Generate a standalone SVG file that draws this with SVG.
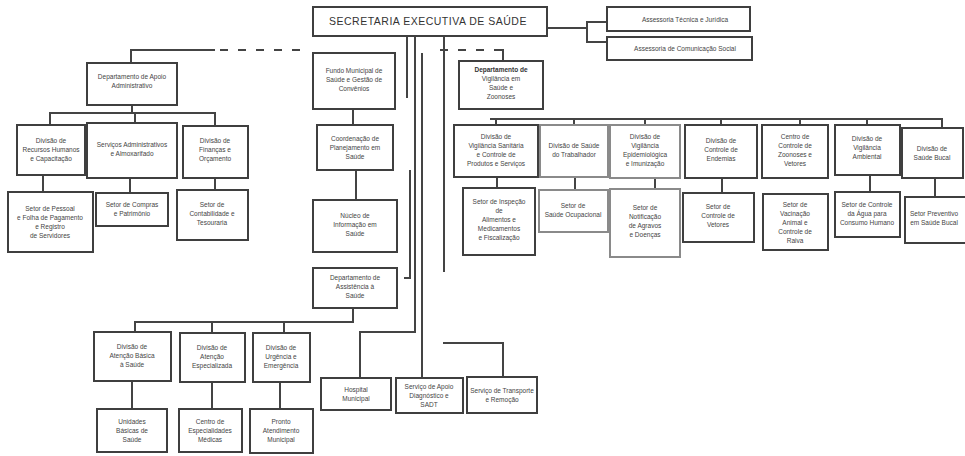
<svg xmlns="http://www.w3.org/2000/svg" width="965" height="456" viewBox="0 0 965 456">
<style>
.b{fill:#fff;stroke:#3f3f3f;stroke-width:2}
.l{fill:#fff;stroke:#8a8a8a;stroke-width:2}
.c{fill:none;stroke:#444;stroke-width:2}
.d{fill:none;stroke:#444;stroke-width:2;stroke-dasharray:8 10}
text{font-family:"Liberation Sans",Arial,sans-serif;font-size:6.5px;fill:#444;text-anchor:middle}
.h{font-size:10.5px;fill:#333;letter-spacing:0.5px}
</style>
<rect width="965" height="456" fill="#fff"/>
<g id="connectors">
<path class="c" d="M547,28 H587 M607,22 H587 V42 H607"/>
<path class="c" d="M131,63 V50 H215"/>
<path class="d" d="M220,50 H310"/>
<path class="c" d="M132,105 V113 M50,125 V113 H215 V126 M135,113 V123"/>
<path class="c" d="M43,175 V192 M130,178 V193 M215,178 V190"/>
<path class="c" d="M353,109 V125 M356,170 V200"/>
<path class="c" d="M353,308 V322 H135 V332 M212,322 V333 M284,322 V333"/>
<path class="c" d="M132,381 V409 M212,382 V409 M280,382 V409"/>
<path class="c" d="M407,36 V98 M415,36 V332 H360 V378 M422,53 V378 M444,36 V272 M410,170 V278 H404"/>
<path class="c" d="M443,343 H503 V377"/>
<path class="d" d="M440,50 H500"/>
<path class="c" d="M500,50 H503 V61"/>
<path class="c" d="M490,119 H942 V128 M496,119 V125 M574,119 V125 M645,119 V125 M721,119 V125 M800,119 V125 M867,119 V125"/>
<path class="c" d="M497,177 V188 M575,177 V190 M655,178 V189 M722,178 V193 M870,175 V192 M935,178 V197"/>
</g>
<g id="title"><rect class="b" x="313" y="7" width="234" height="29"/><text class="h" x="428" y="25">SECRETARIA EXECUTIVA DE SAÚDE</text></g>
<g id="tr1"><rect class="b" x="607" y="7" width="143" height="24"/><text x="685" y="22">Assessoria Técnica e Jurídica</text></g>
<g id="tr2"><rect class="b" x="607" y="37" width="145" height="23"/><text x="685" y="51">Assessoria de Comunicação Social</text></g>
<g id="l0"><rect class="b" x="87" y="63" width="90" height="42"/><text x="132" y="79">Departamento de Apoio</text><text x="132" y="88">Administrativo</text></g>
<g id="l1"><rect class="b" x="17" y="125" width="68" height="50"/><text x="51" y="143">Divisão de</text><text x="51" y="152">Recursos Humanos</text><text x="51" y="161">e Capacitação</text></g>
<g id="l2"><rect class="b" x="87" y="123" width="90" height="55"/><text x="132" y="147">Serviços Administrativos</text><text x="132" y="156">e Almoxarifado</text></g>
<g id="l3"><rect class="b" x="183" y="126" width="65" height="52"/><text x="215" y="143">Divisão de</text><text x="215" y="152">Finanças e</text><text x="215" y="161">Orçamento</text></g>
<g id="l1c"><rect class="b" x="8" y="192" width="85" height="60"/><text x="50" y="211">Setor de Pessoal</text><text x="50" y="220">e Folha de Pagamento</text><text x="50" y="229">e Registro</text><text x="50" y="238">de Servidores</text></g>
<g id="l2c"><rect class="b" x="96" y="193" width="72" height="33"/><text x="132" y="207">Setor de Compras</text><text x="132" y="216">e Patrimônio</text></g>
<g id="l3c"><rect class="b" x="177" y="190" width="71" height="50"/><text x="212" y="207">Setor de</text><text x="212" y="216">Contabilidade e</text><text x="212" y="225">Tesouraria</text></g>
<g id="c1"><rect class="b" x="313" y="53" width="82" height="56"/><text x="354" y="73">Fundo Municipal de</text><text x="354" y="82">Saúde e Gestão de</text><text x="354" y="91">Convênios</text></g>
<g id="c2"><rect class="b" x="317" y="125" width="76" height="45"/><text x="355" y="141">Coordenação de</text><text x="355" y="150">Planejamento em</text><text x="355" y="159">Saúde</text></g>
<g id="c3"><rect class="b" x="313" y="200" width="84" height="52"/><text x="355" y="218">Núcleo de</text><text x="355" y="227">Informação em</text><text x="355" y="236">Saúde</text></g>
<g id="c4"><rect class="b" x="313" y="268" width="84" height="40"/><text x="355" y="280">Departamento de</text><text x="355" y="289">Assistência à</text><text x="355" y="298">Saúde</text></g>
<g id="bl1"><rect class="b" x="94" y="332" width="77" height="49"/><text x="132" y="349">Divisão de</text><text x="132" y="358">Atenção Básica</text><text x="132" y="367">à Saúde</text></g>
<g id="bl2"><rect class="b" x="180" y="333" width="65" height="49"/><text x="212" y="350">Divisão de</text><text x="212" y="359">Atenção</text><text x="212" y="368">Especializada</text></g>
<g id="bl3"><rect class="b" x="253" y="333" width="57" height="49"/><text x="281" y="350">Divisão de</text><text x="281" y="359">Urgência e</text><text x="281" y="368">Emergência</text></g>
<g id="bl1c"><rect class="b" x="97" y="409" width="70" height="43"/><text x="132" y="424">Unidades</text><text x="132" y="433">Básicas de</text><text x="132" y="442">Saúde</text></g>
<g id="bl2c"><rect class="b" x="179" y="409" width="63" height="43"/><text x="210" y="424">Centro de</text><text x="210" y="433">Especialidades</text><text x="210" y="442">Médicas</text></g>
<g id="bl3c"><rect class="b" x="250" y="409" width="63" height="44"/><text x="281" y="424">Pronto</text><text x="281" y="433">Atendimento</text><text x="281" y="442">Municipal</text></g>
<g id="b1"><rect class="b" x="321" y="378" width="70" height="32"/><text x="356" y="392">Hospital</text><text x="356" y="401">Municipal</text></g>
<g id="b2"><rect class="b" x="396" y="378" width="67" height="35"/><text x="429" y="389">Serviço de Apoio</text><text x="429" y="398">Diagnóstico e</text><text x="429" y="407">SADT</text></g>
<g id="b3"><rect class="b" x="467" y="377" width="70" height="36"/><text x="502" y="393">Serviço de Transporte</text><text x="502" y="402">e Remoção</text></g>
<g id="r0"><rect class="b" x="459" y="61" width="84" height="48"/><text x="501" y="72" style="fill:#333;font-weight:bold">Departamento de</text><text x="501" y="81">Vigilância em</text><text x="501" y="90">Saúde e</text><text x="501" y="99">Zoonoses</text></g>
<g id="r1"><rect class="b" x="454" y="125" width="84" height="52"/><text x="496" y="139">Divisão de</text><text x="496" y="148">Vigilância Sanitária</text><text x="496" y="157">e Controle de</text><text x="496" y="166">Produtos e Serviços</text></g>
<g id="r2"><rect class="l" x="540" y="125" width="68" height="52"/><text x="574" y="148">Divisão de Saúde</text><text x="574" y="157">do Trabalhador</text></g>
<g id="r3"><rect class="l" x="610" y="125" width="70" height="53"/><text x="645" y="139">Divisão de</text><text x="645" y="148">Vigilância</text><text x="645" y="157">Epidemiológica</text><text x="645" y="166">e Imunização</text></g>
<g id="r4"><rect class="b" x="685" y="125" width="72" height="53"/><text x="721" y="143">Divisão de</text><text x="721" y="152">Controle de</text><text x="721" y="161">Endemias</text></g>
<g id="r5"><rect class="b" x="762" y="125" width="66" height="53"/><text x="795" y="139">Centro de</text><text x="795" y="148">Controle de</text><text x="795" y="157">Zoonoses e</text><text x="795" y="166">Vetores</text></g>
<g id="r6"><rect class="b" x="835" y="125" width="65" height="50"/><text x="867" y="141">Divisão de</text><text x="867" y="150">Vigilância</text><text x="867" y="159">Ambiental</text></g>
<g id="r7"><rect class="b" x="902" y="128" width="61" height="50"/><text x="932" y="151">Divisão de</text><text x="932" y="160">Saúde Bucal</text></g>
<g id="r1c"><rect class="b" x="463" y="188" width="72" height="67"/><text x="499" y="204">Setor de Inspeção</text><text x="499" y="213">de</text><text x="499" y="222">Alimentos e</text><text x="499" y="231">Medicamentos</text><text x="499" y="240">e Fiscalização</text></g>
<g id="r2c"><rect class="l" x="539" y="190" width="69" height="42"/><text x="573" y="208">Setor de</text><text x="573" y="217">Saúde Ocupacional</text></g>
<g id="r3c"><rect class="l" x="610" y="189" width="70" height="68"/><text x="645" y="210">Setor de</text><text x="645" y="219">Notificação</text><text x="645" y="228">de Agravos</text><text x="645" y="237">e Doenças</text></g>
<g id="r4c"><rect class="b" x="683" y="193" width="71" height="49"/><text x="718" y="209">Setor de</text><text x="718" y="218">Controle de</text><text x="718" y="227">Vetores</text></g>
<g id="r5c"><rect class="b" x="763" y="194" width="65" height="56"/><text x="795" y="207">Setor de</text><text x="795" y="216">Vacinação</text><text x="795" y="225">Animal e</text><text x="795" y="234">Controle de</text><text x="795" y="243">Raiva</text></g>
<g id="r6c"><rect class="b" x="835" y="192" width="65" height="45"/><text x="867" y="207">Setor de Controle</text><text x="867" y="216">da Água para</text><text x="867" y="225">Consumo Humano</text></g>
<g id="r7c"><rect class="b" x="905" y="197" width="62" height="46"/><text x="934" y="216">Setor Preventivo</text><text x="934" y="225">em Saúde Bucal</text></g>
</svg>
